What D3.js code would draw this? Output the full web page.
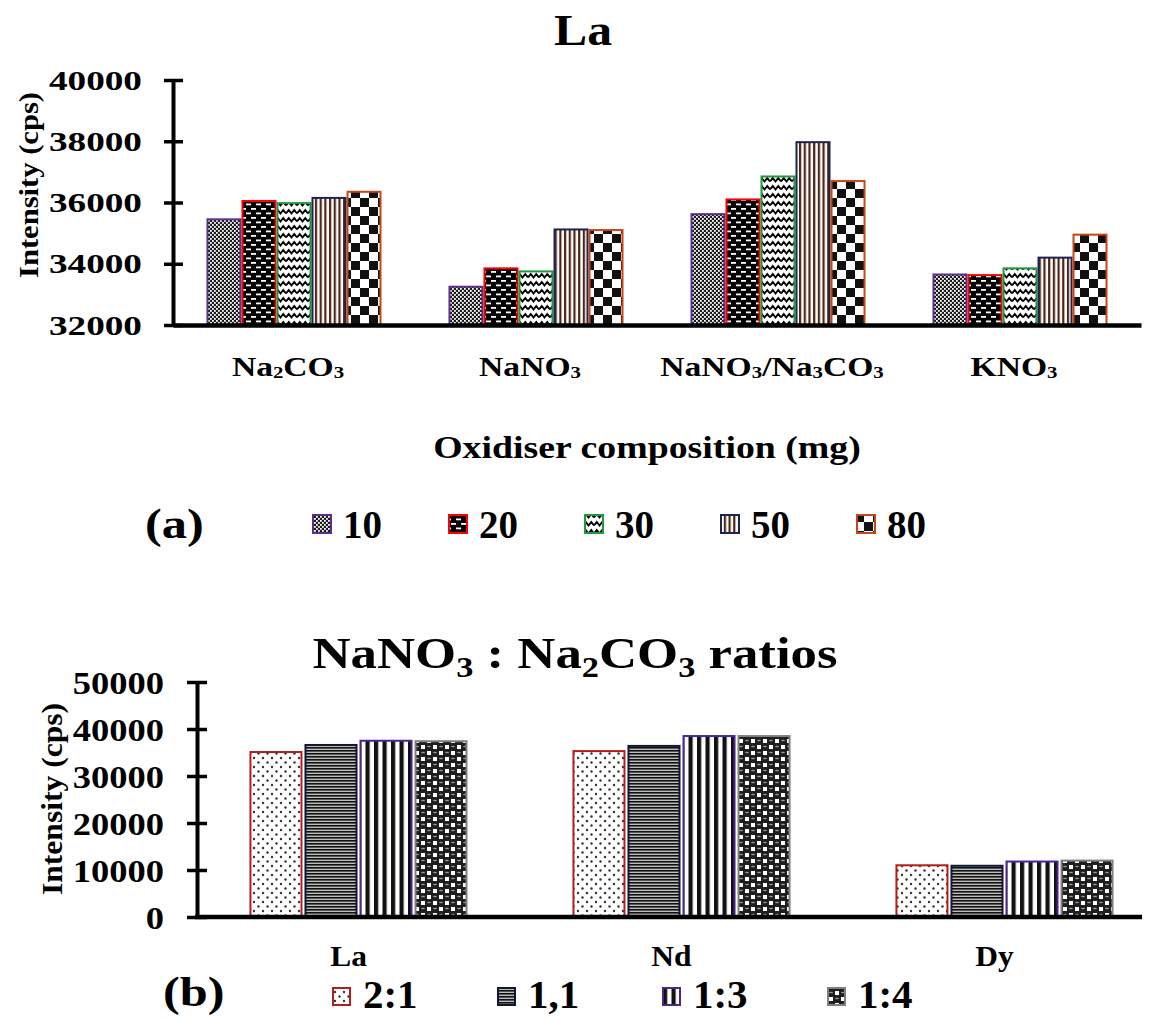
<!DOCTYPE html>
<html><head><meta charset="utf-8">
<script src="https://cdn.jsdelivr.net/npm/d3@7"></script>
<style>
body{margin:0;background:#fff}
text{font-family:"Liberation Serif","Times New Roman",serif;font-weight:bold;fill:#000}
</style>
</head><body>
<svg id="c" width="1165" height="1019"></svg>
<script>
// ---------- DATA ----------
const titleA = "La";
const categoriesA = ["Na2CO3", "NaNO3", "NaNO3/Na3CO3", "KNO3"];
const seriesA = ["10", "20", "30", "50", "80"];
const valuesA10 = [35450, 33250, 35620, 33650];
const valuesA20 = [36050, 33850, 36100, 33630];
const valuesA30 = [35980, 33750, 36850, 33850];
const valuesA50 = [36150, 35120, 37970, 34200];
const valuesA80 = [36350, 35100, 36700, 34950];
const ticksA = [32000, 34000, 36000, 38000, 40000];
const xTitleA = "Oxidiser composition (mg)";
const yTitle = "Intensity (cps)";

const titleB = "NaNO3 : Na2CO3 ratios";
const categoriesB = ["La", "Nd", "Dy"];
const seriesB = ["2:1", "1,1", "1:3", "1:4"];
const valuesB21 = [35100, 35300, 11000];
const valuesB11 = [36600, 36400, 10900];
const valuesB13 = [37500, 38500, 11800];
const valuesB14 = [37400, 38500, 12000];
const ticksB = [0, 10000, 20000, 30000, 40000, 50000];

// ---------- SETUP ----------
const svg = d3.select("#c");
const defs = svg.append("defs");
function pat(id, w, h, bg, draw) {
  const p = defs.append("pattern").attr("id", id).attr("patternUnits", "userSpaceOnUse")
    .attr("width", w).attr("height", h);
  p.append("rect").attr("width", w).attr("height", h).attr("fill", bg);
  draw(p);
}
function r(p, x, y, w, h, f) { p.append("rect").attr("x", x).attr("y", y).attr("width", w).attr("height", h).attr("fill", f); }

pat("pa10", 4, 4, "#1c1c1c", p => { r(p,0,0,1.8,1.8,"#fff"); r(p,2,2,1.8,1.8,"#fff"); });
pat("pa20", 10, 9, "#000", p => { r(p,1,1,5,1.8,"#fff"); r(p,6,5.5,5,1.8,"#fff"); r(p,-4,5.5,5,1.8,"#fff"); });
pat("pa30", 11, 8, "#fff", p => { p.append("path").attr("d","M0,5.5 L2.75,2 L5.5,5.5 L8.25,2 L11,5.5").attr("fill","none").attr("stroke","#000").attr("stroke-width",2); });
pat("pa50", 4.7, 10, "#fff", p => { r(p,0,0,2.2,10,"#4e2414"); });
pat("pa80", 18, 18, "#fff", p => { r(p,0,0,9,9,"#111"); r(p,9,9,9,9,"#111"); });

pat("pb21", 9, 9, "#fff", p => {
  p.append("circle").attr("cx",2).attr("cy",2).attr("r",1.2).attr("fill","#333");
  p.append("circle").attr("cx",6.5).attr("cy",6.5).attr("r",1.2).attr("fill","#333");
});
pat("pb11", 10, 3, "#bdbdbd", p => { r(p,0,0,10,1.6,"#111"); });
pat("pb13", 8.5, 10, "#fff", p => { r(p,0,0,4.2,10,"#111"); });
pat("pb14", 12, 12, "#1e1e1e", p => {
  r(p,1,1,4,4,"#fff"); r(p,7,7,4,4,"#fff");
  p.append("ellipse").attr("cx",9).attr("cy",2.5).attr("rx",2).attr("ry",0.8).attr("fill","#999");
  p.append("ellipse").attr("cx",3).attr("cy",8.5).attr("rx",2).attr("ry",0.8).attr("fill","#999");
});

const styleA = [
  {fill:"url(#pa10)", stroke:"#5b2d8e"},
  {fill:"url(#pa20)", stroke:"#ff0000"},
  {fill:"url(#pa30)", stroke:"#1e9a3c"},
  {fill:"url(#pa50)", stroke:"#1c2452"},
  {fill:"url(#pa80)", stroke:"#c4461a"}
];
const styleB = [
  {fill:"url(#pb21)", stroke:"#b51c1c"},
  {fill:"url(#pb11)", stroke:"#0f1733"},
  {fill:"url(#pb13)", stroke:"#4b2590"},
  {fill:"url(#pb14)", stroke:"#808080"}
];

// text helper: digits right after letters become subscripts when sub is given
function txt(x, y, str, size, sx, anchor, sub) {
  const t = svg.append("text").attr("transform", `translate(${x},${y}) scale(${sx},1)`)
    .attr("font-size", size).attr("text-anchor", anchor || "start");
  if (!sub) { t.text(str); return t; }
  let segs = []; let buf = "";
  for (let i = 0; i < str.length; i++) {
    const c = str[i];
    if (/\d/.test(c) && i > 0 && /[A-Za-z]/.test(str[i-1])) { if (buf) segs.push({t:buf}); buf=""; segs.push({t:c, s:true}); }
    else buf += c;
  }
  if (buf) segs.push({t:buf});
  let shifted = false;
  segs.forEach(s => {
    const ts = t.append("tspan").text(s.t);
    if (s.s) { ts.attr("font-size", size * sub.scale).attr("dy", shifted ? 0 : sub.dy); shifted = true; }
    else if (shifted) { ts.attr("dy", -sub.dy); shifted = false; }
  });
  return t;
}

// ---------- CHART A ----------
const seriesValsA = [valuesA10, valuesA20, valuesA30, valuesA50, valuesA80];
const xA = d3.scaleBand().domain(categoriesA).range([173, 1141]).paddingInner(0.285).paddingOuter(0.1425);
const xA1 = d3.scaleBand().domain(seriesA).range([0, xA.bandwidth()]).paddingInner(0.057);
const yA = d3.scaleLinear().domain([32000, 40000]).range([325, 80]);

const gA = svg.append("g");
seriesA.forEach((s, si) => {
  gA.selectAll(null).data(categoriesA).enter().append("rect")
    .attr("x", c => xA(c) + xA1(s))
    .attr("y", (c, ci) => yA(seriesValsA[si][ci]))
    .attr("width", xA1.bandwidth())
    .attr("height", (c, ci) => yA(32000) - yA(seriesValsA[si][ci]))
    .attr("fill", styleA[si].fill).attr("stroke", styleA[si].stroke).attr("stroke-width", 2);
});

const yAxA = svg.append("g").attr("transform", "translate(173,0)")
  .call(d3.axisLeft(yA).tickValues(ticksA).tickSize(10).tickSizeOuter(0).tickFormat(d3.format("d")));
yAxA.select(".domain").attr("stroke", "#000").attr("stroke-width", 4);
yAxA.selectAll(".tick line").attr("x1", -9).attr("x2", 10).attr("stroke", "#000").attr("stroke-width", 3.5);
yAxA.selectAll(".tick text").attr("x", null).attr("dy", null)
  .attr("transform", "translate(-31,9) scale(1.38,1)").attr("font-size", 27).attr("text-anchor", "end")
  .attr("font-family", null).attr("fill", "#000");

const xAxA = svg.append("g").attr("transform", "translate(0,325)")
  .call(d3.axisBottom(xA).tickSize(0).tickSizeOuter(0));
xAxA.select(".domain").attr("stroke", "#000").attr("stroke-width", 4.5);
xAxA.selectAll(".tick text").remove();
categoriesA.forEach(c => txt(xA(c) + xA.bandwidth() / 2 - 6, 376, c, 28, 1.2, "middle", {scale:0.62, dy:2}));

txt(583, 45, titleA, 44, 1.13, "middle");
txt(647, 458, xTitleA, 31, 1.22, "middle");
svg.append("text").attr("transform", "translate(38,185) rotate(-90)").attr("font-size", 28)
  .attr("text-anchor", "middle").attr("textLength", 186).attr("lengthAdjust", "spacingAndGlyphs").text(yTitle);

// legend A
txt(145, 538, "(a)", 42, 1.2, "start");
const legA = svg.append("g");
seriesA.forEach((s, i) => {
  const lx = 313 + i * 136;
  legA.append("rect").attr("x", lx).attr("y", 515).attr("width", 18).attr("height", 18)
    .attr("fill", styleA[i].fill).attr("stroke", styleA[i].stroke).attr("stroke-width", 2);
  txt(lx + 30, 538, s, 39, 1.0, "start");
});

// ---------- CHART B ----------
const seriesValsB = [valuesB21, valuesB11, valuesB13, valuesB14];
const xB = d3.scaleBand().domain(categoriesB).range([197, 1166]).paddingInner(0.331).paddingOuter(0.1655);
const xB1 = d3.scaleBand().domain(seriesB).range([0, xB.bandwidth()]).paddingInner(0.0727);
const yB = d3.scaleLinear().domain([0, 50000]).range([917, 682]);

const gB = svg.append("g");
seriesB.forEach((s, si) => {
  gB.selectAll(null).data(categoriesB).enter().append("rect")
    .attr("x", c => xB(c) + xB1(s))
    .attr("y", (c, ci) => yB(seriesValsB[si][ci]))
    .attr("width", xB1.bandwidth())
    .attr("height", (c, ci) => yB(0) - yB(seriesValsB[si][ci]))
    .attr("fill", styleB[si].fill).attr("stroke", styleB[si].stroke).attr("stroke-width", 2);
});

const yAxB = svg.append("g").attr("transform", "translate(197,0)")
  .call(d3.axisLeft(yB).tickValues(ticksB).tickSize(10).tickSizeOuter(0).tickFormat(d3.format("d")));
yAxB.select(".domain").attr("stroke", "#000").attr("stroke-width", 4);
yAxB.selectAll(".tick line").attr("x1", -10).attr("x2", 10).attr("stroke", "#000").attr("stroke-width", 3.5);
yAxB.selectAll(".tick text").attr("x", null).attr("dy", null)
  .attr("transform", "translate(-33,11) scale(1.14,1)").attr("font-size", 32).attr("text-anchor", "end")
  .attr("font-family", null).attr("fill", "#000");

const xAxB = svg.append("g").attr("transform", "translate(0,917)")
  .call(d3.axisBottom(xB).tickSize(0).tickSizeOuter(0));
xAxB.select(".domain").attr("stroke", "#000").attr("stroke-width", 4.5).attr("d", "M195,0H1142");
xAxB.selectAll(".tick text").remove();
categoriesB.forEach(c => txt(xB(c) + xB.bandwidth() / 2 - 10, 966, c, 30, 1.05, "middle"));

txt(575, 668, titleB, 44, 1.2, "middle", {scale:0.65, dy:9});
svg.append("text").attr("transform", "translate(62,799) rotate(-90)").attr("font-size", 29)
  .attr("text-anchor", "middle").attr("textLength", 192).attr("lengthAdjust", "spacingAndGlyphs").text(yTitle);

// legend B
txt(163, 1006, "(b)", 42, 1.2, "start");
const legB = svg.append("g");
seriesB.forEach((s, i) => {
  const lx = 333 + i * 165;
  legB.append("rect").attr("x", lx).attr("y", 988).attr("width", 17).attr("height", 17)
    .attr("fill", styleB[i].fill).attr("stroke", styleB[i].stroke).attr("stroke-width", 2);
  txt(lx + 30, 1008, s, 39, 1.05, "start");
});
</script>
</body></html>
